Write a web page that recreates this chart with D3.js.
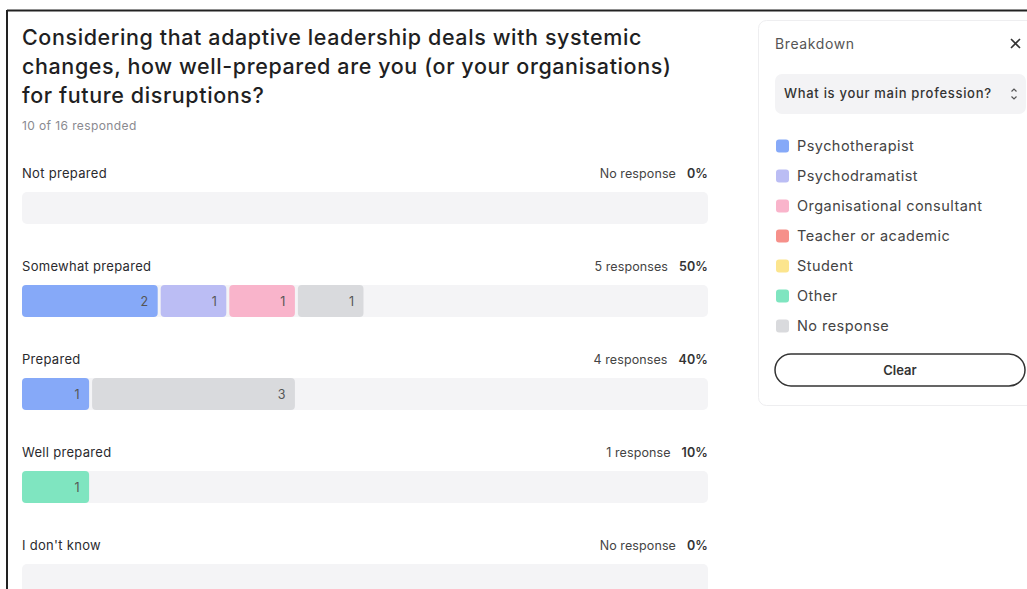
<!DOCTYPE html>
<html>
<head>
<meta charset="utf-8">
<script src="https://cdn.jsdelivr.net/npm/d3@7/dist/d3.min.js"></script>
<style>
  html, body { margin: 0; padding: 0; background: #fff; }
  svg { display: block; font-family: "Inter", "Noto Sans", sans-serif; }
</style>
</head>
<body>
<svg id="chart" width="1027" height="589"></svg>
<script>
// ---------- data ----------
const titleLines = [
  "Considering that adaptive leadership deals with systemic",
  "changes, how well-prepared are you (or your organisations)",
  "for future disruptions?"
];
const subtitle = "10 of 16 responded";
const categories = ["Not prepared", "Somewhat prepared", "Prepared", "Well prepared", "I don't know"];
const professions = ["Psychotherapist", "Psychodramatist", "Organisational consultant", "Teacher or academic", "Student", "Other", "No response"];
const professionColors = ["#86a9f8", "#bbbdf4", "#f9b4cb", "#f6908a", "#fce58e", "#7fe5c0", "#d9dadd"];
const psychotherapist = [0, 2, 1, 0, 0];
const psychodramatist = [0, 1, 0, 0, 0];
const organisationalConsultant = [0, 1, 0, 0, 0];
const teacherOrAcademic = [0, 0, 0, 0, 0];
const student = [0, 0, 0, 0, 0];
const other = [0, 0, 0, 1, 0];
const noResponse = [0, 1, 3, 0, 0];
const responseLabels = ["No response", "5 responses", "4 responses", "1 response", "No response"];
const percentLabels = ["0%", "50%", "40%", "10%", "0%"];
const totalResponded = 10;
const breakdownTitle = "Breakdown";
const breakdownQuestion = "What is your main profession?";
const clearLabel = "Clear";

// ---------- build table ----------
const seriesValues = [psychotherapist, psychodramatist, organisationalConsultant, teacherOrAcademic, student, other, noResponse];
const table = categories.map((c, i) => {
  const row = { category: c };
  professions.forEach((p, j) => row[p] = seriesValues[j][i]);
  return row;
});
const stacked = d3.stack().keys(professions)(table);

const svg = d3.select("#chart");
const color = d3.scaleOrdinal().domain(professions).range(professionColors);

// frame lines
svg.append("line").attr("x1", 7).attr("x2", 1027).attr("y1", 10.5).attr("y2", 10.5)
  .attr("stroke", "#222").attr("stroke-width", 2);
svg.append("line").attr("x1", 7).attr("x2", 7).attr("y1", 10).attr("y2", 589)
  .attr("stroke", "#222").attr("stroke-width", 2);

// title
const title = svg.append("g");
titleLines.forEach((t, i) => {
  title.append("text").attr("x", 22).attr("y", 45 + i * 29)
    .attr("font-size", 21.5).attr("font-weight", 500).attr("fill", "#1f1f23")
    .attr("letter-spacing", 0.6).text(t);
});
svg.append("text").attr("x", 22).attr("y", 130).attr("font-size", 12)
  .attr("fill", "#8a8a90").attr("letter-spacing", 0.4).text(subtitle);

// scales
const x = d3.scaleLinear().domain([0, totalResponded]).range([22, 708]);
const yRow = d3.scaleBand().domain(categories).range([156, 621]).paddingInner(0);
const barTop = 36, barH = 32;

const rows = svg.append("g").selectAll("g").data(categories).join("g")
  .attr("transform", d => `translate(0,${yRow(d)})`);

rows.append("text").attr("x", 22).attr("y", 22).attr("font-size", 13)
  .attr("fill", "#2a2a2e").attr("letter-spacing", 0.3).text(d => d);

rows.append("rect").attr("x", x(0)).attr("y", barTop)
  .attr("width", x(totalResponded) - x(0)).attr("height", barH)
  .attr("rx", 5).attr("fill", "#f4f4f6");

rows.append("text").attr("x", 708).attr("y", 22).attr("text-anchor", "end")
  .attr("font-size", 12.5).attr("letter-spacing", 0.1)
  .call(t => {
    t.append("tspan").attr("fill", "#444").text((d, i) => responseLabels[i]);
    t.append("tspan").attr("dx", 11).attr("fill", "#333").attr("font-weight", 600)
      .text((d, i) => percentLabels[i]);
  });

// stacked segments
const segs = svg.append("g").selectAll("g").data(stacked).join("g")
  .attr("fill", d => color(d.key));
const segData = d => d.map((v, i) => ({ v0: v[0], v1: v[1], cat: categories[i] }))
  .filter(s => s.v1 > s.v0);

segs.selectAll("rect").data(segData).join("rect")
  .attr("x", s => x(s.v0) + (s.v0 > 0 ? 1.5 : 0))
  .attr("y", s => yRow(s.cat) + barTop)
  .attr("width", s => x(s.v1) - x(s.v0) - (s.v0 > 0 ? 3 : 1.5))
  .attr("height", barH).attr("rx", 4);

segs.selectAll("text").data(segData).join("text")
  .attr("x", s => x(s.v1) - 11)
  .attr("y", s => yRow(s.cat) + barTop + barH / 2 + 4.5)
  .attr("text-anchor", "end").attr("font-size", 12.5).attr("fill", "#555")
  .text(s => s.v1 - s.v0);

// ---------- breakdown panel ----------
const panel = svg.append("g");
panel.append("rect").attr("x", 758.5).attr("y", 20.5).attr("width", 300).attr("height", 385)
  .attr("rx", 8).attr("fill", "#fff").attr("stroke", "#eeeef0");
panel.append("text").attr("x", 775).attr("y", 49).attr("font-size", 14)
  .attr("fill", "#555").attr("letter-spacing", 0.6).text(breakdownTitle);
panel.append("path").attr("d", "M1011,39 L1020,48 M1020,39 L1011,48")
  .attr("stroke", "#333").attr("stroke-width", 1.6);
panel.append("rect").attr("x", 775).attr("y", 74).attr("width", 251).attr("height", 40)
  .attr("rx", 7).attr("fill", "#f3f3f5");
panel.append("text").attr("x", 784).attr("y", 98).attr("font-size", 13)
  .attr("font-weight", 500).attr("fill", "#333").attr("letter-spacing", 0.7).text(breakdownQuestion);
panel.append("path").attr("d", "M1011.5,91.5 L1014,89 L1016.5,91.5 M1011.5,96.5 L1014,99 L1016.5,96.5")
  .attr("stroke", "#555").attr("stroke-width", 1.2).attr("fill", "none");

const legendY = d3.scalePoint().domain(professions).range([146, 326]);
const leg = panel.append("g").selectAll("g").data(professions).join("g")
  .attr("transform", d => `translate(776,${legendY(d)})`);
leg.append("rect").attr("x", 0).attr("y", -6.5).attr("width", 13).attr("height", 13)
  .attr("rx", 3).attr("fill", d => color(d));
leg.append("text").attr("x", 21).attr("y", 5).attr("font-size", 14.5)
  .attr("fill", "#444").attr("letter-spacing", 0.45).text(d => d);

panel.append("rect").attr("x", 775).attr("y", 354).attr("width", 250).attr("height", 32)
  .attr("rx", 16).attr("fill", "#fff").attr("stroke", "#333").attr("stroke-width", 1.5);
panel.append("text").attr("x", 900).attr("y", 375).attr("text-anchor", "middle")
  .attr("font-size", 13).attr("font-weight", 600).attr("fill", "#333").text(clearLabel);
</script>
</body>
</html>
